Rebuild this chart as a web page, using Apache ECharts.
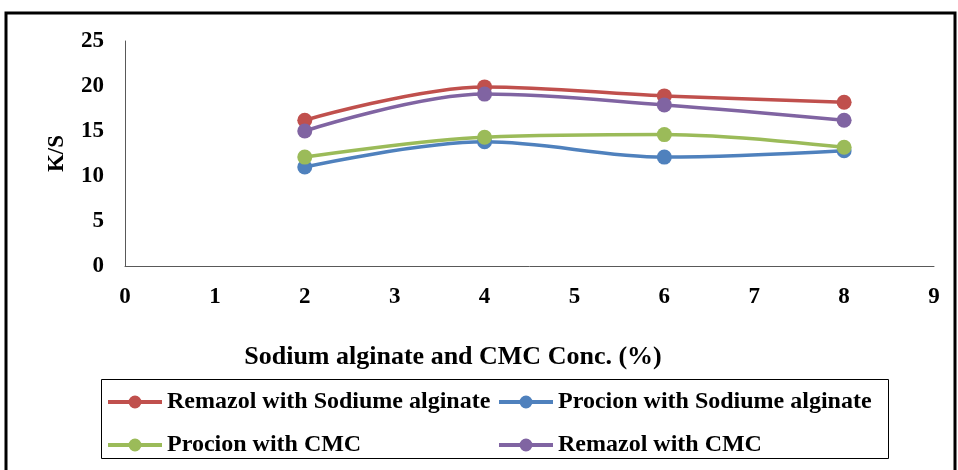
<!DOCTYPE html>
<html><head><meta charset="utf-8">
<script src="https://cdn.jsdelivr.net/npm/echarts@6/dist/echarts.min.js"></script>
<style>html,body{margin:0;padding:0;background:#fff}#c{width:958px;height:470px}</style>
</head><body><div id="c"></div>
<script>
const concentrations = [2, 4, 6, 8];
const remazolSA = [16.2, 19.9, 18.9, 18.2];
const procionSA = [11.0, 13.8, 12.1, 12.8];
const procionCMC = [12.1, 14.3, 14.6, 13.2];
const remazolCMC = [15.0, 19.1, 17.9, 16.2];
const seriesNames = ['Remazol with Sodiume alginate', 'Procion with Sodiume alginate', 'Procion with CMC', 'Remazol with CMC'];
const seriesValues = [remazolSA, procionSA, procionCMC, remazolCMC];
const colors = ['#C0504D', '#4F81BD', '#9BBB59', '#8064A2'];
const xTitle = 'Sodium alginate and CMC Conc. (%)';
const yTitle = 'K/S';

const font = 'Liberation Serif';
const chart = echarts.init(document.getElementById('c'));
const legendPos = [[108, 390], [499, 390], [108, 433], [499, 433]];
chart.setOption({
  animation: false,
  grid: {left: 125, right: 24, top: 41, bottom: 204, containLabel: false},
  xAxis: {
    type: 'value', min: 0, max: 9, interval: 1,
    axisLine: {show: true, lineStyle: {color: '#595959', width: 1}},
    axisTick: {show: false}, splitLine: {show: false},
    axisLabel: {margin: 20, color: '#000', fontFamily: font, fontWeight: 'bold', fontSize: 23}
  },
  yAxis: {
    type: 'value', min: 0, max: 25, interval: 5,
    name: yTitle, nameLocation: 'middle', nameGap: 56,
    nameTextStyle: {color: '#000', fontFamily: font, fontWeight: 'bold', fontSize: 23},
    axisLine: {show: true, lineStyle: {color: '#595959', width: 1}},
    axisTick: {show: false}, splitLine: {show: false},
    axisLabel: {margin: 21, color: '#000', fontFamily: font, fontWeight: 'bold', fontSize: 23}
  },
  legend: seriesNames.map((n, i) => ({
    data: [n], left: legendPos[i][0], top: legendPos[i][1],
    itemWidth: 54, itemHeight: 13, padding: 0, itemGap: 0,
    icon: 'path://M0,4.5 L54,4.5 L54,8.5 L0,8.5 Z M27,0 A6.5,6.5 0 1,1 27,13 A6.5,6.5 0 1,1 27,0 Z',
    textStyle: {color: '#000', fontFamily: font, fontWeight: 'bold', fontSize: 24}
  })),
  graphic: [
    {type: 'rect', shape: {x: 6, y: 13, width: 949, height: 470}, style: {fill: 'none', stroke: '#000', lineWidth: 3}, silent: true},
    {type: 'rect', shape: {x: 101.5, y: 379.5, width: 787, height: 79}, style: {fill: 'none', stroke: '#000', lineWidth: 1}, silent: true},
    {type: 'text', style: {text: xTitle, x: 453, y: 357, align: 'center', verticalAlign: 'middle', fill: '#000', font: 'bold 26px "Liberation Serif"'}}
  ],
  series: seriesNames.map((n, i) => ({
    name: n, type: 'line', smooth: 0.35,
    data: concentrations.map((c, j) => [c, seriesValues[i][j]]),
    symbol: 'circle', symbolSize: 15,
    lineStyle: {color: colors[i], width: 3.5},
    itemStyle: {color: colors[i]}
  }))
});
</script></body></html>
